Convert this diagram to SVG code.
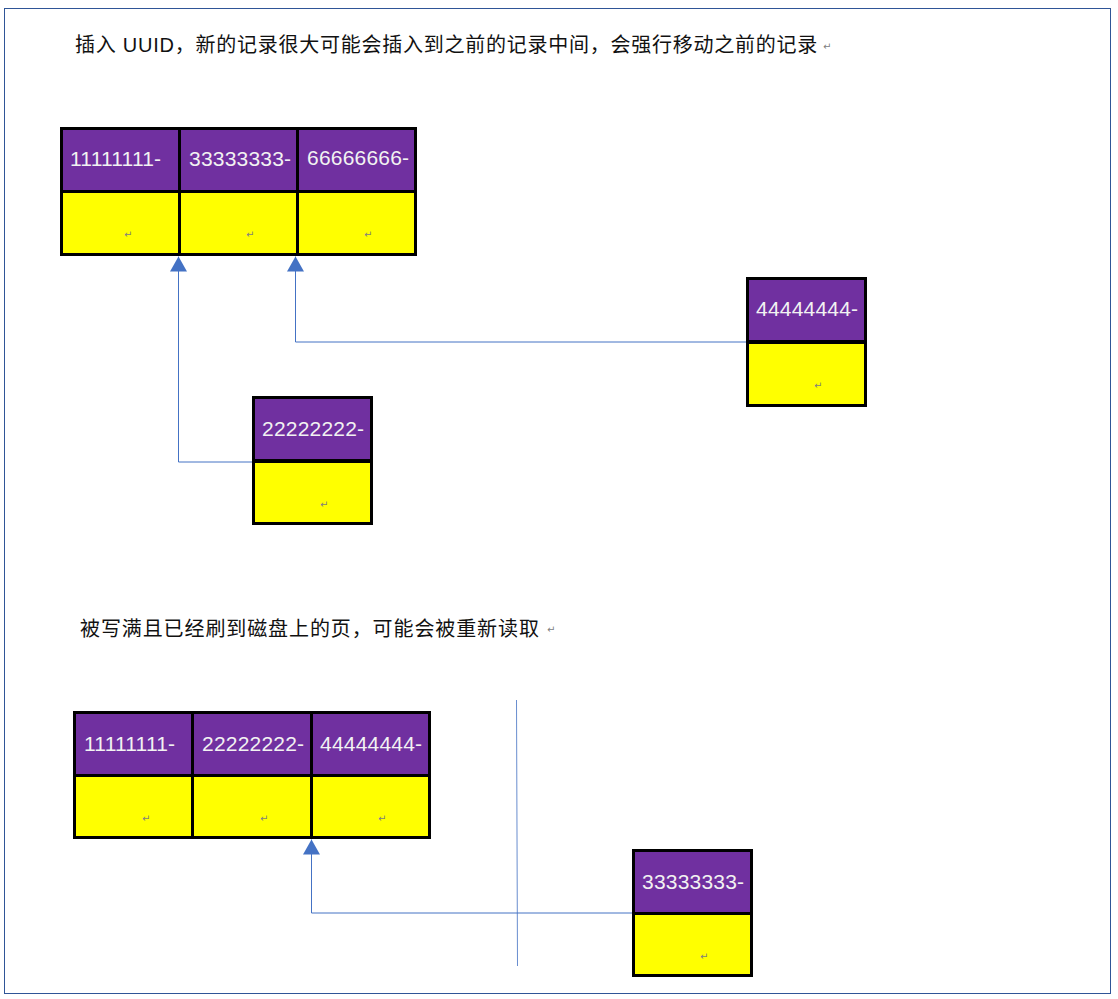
<svg xmlns="http://www.w3.org/2000/svg" width="1118" height="999" viewBox="0 0 1118 999">
<defs>
<style>
.frame{fill:#fff;stroke:#2F5597;stroke-width:1}
.hd{fill:#7030A0;stroke:#000;stroke-width:3}
.bd{fill:#FFFF00;stroke:#000;stroke-width:3}
.lbl{font-family:"Liberation Sans",Arial,sans-serif;font-size:21px;fill:#F2F2F2;letter-spacing:0.2px}
.cap{font-family:"Liberation Sans","Noto Sans CJK SC",sans-serif;font-size:20px;fill:#111}
.rm{font-family:"DejaVu Sans",sans-serif;font-size:10px;fill:#808080}
.conn{fill:none;stroke:#4472C4;stroke-width:1}
</style>
<marker id="ah" viewBox="0 0 15 17" refX="15" refY="8.5" markerWidth="15" markerHeight="17" markerUnits="userSpaceOnUse" orient="auto">
<path d="M0,0 L15,8.5 L0,17 Z" fill="#4472C4"/>
</marker>
</defs>
<rect class="frame" x="4.5" y="8.5" width="1106" height="985"/>
<g id="caption1">
<text class="cap" x="75" y="52" letter-spacing="0.75">插入 UUID，新的记录很大可能会插入到之前的记录中间，会强行移动之前的记录</text>
<text class="rm" x="823" y="50">↵</text>
</g>
<g id="caption2">
<text class="cap" x="80" y="636" letter-spacing="0.9">被写满且已经刷到磁盘上的页，可能会被重新读取</text>
<text class="rm" x="547" y="633">↵</text>
</g>
<g id="connectors">
<path class="conn" d="M253,462 H178.5 V256.5" marker-end="url(#ah)"/>
<path class="conn" d="M747,342 H295.5 V256.5" marker-end="url(#ah)"/>
<path class="conn" d="M633,913 H311.5 V839.5" marker-end="url(#ah)"/>
<line x1="516.5" y1="700" x2="517.5" y2="966" stroke="#4472C4" stroke-width="1" opacity="0.8"/>
</g>
<g id="page1">
<rect class="hd" x="61.5" y="128.5" width="118" height="63"/>
<rect class="bd" x="61.5" y="191.5" width="118" height="63"/>
<rect class="hd" x="179.5" y="128.5" width="118" height="63"/>
<rect class="bd" x="179.5" y="191.5" width="118" height="63"/>
<rect class="hd" x="297.5" y="128.5" width="118" height="63"/>
<rect class="bd" x="297.5" y="191.5" width="118" height="63"/>
<text class="lbl" x="70" y="166">11111111-</text>
<text class="lbl" x="189" y="166">33333333-</text>
<text class="lbl" x="307" y="165">66666666-</text>
<text class="rm" x="124" y="238">↵</text>
<text class="rm" x="246" y="238">↵</text>
<text class="rm" x="364" y="238">↵</text>
</g>
<g id="rec22222222">
<rect class="hd" x="253.5" y="397.5" width="118" height="63"/>
<rect class="bd" x="253.5" y="461.5" width="118" height="62"/>
<text class="lbl" x="262" y="436">22222222-</text>
<text class="rm" x="320" y="508">↵</text>
</g>
<g id="rec44444444">
<rect class="hd" x="747.5" y="278.5" width="118" height="63"/>
<rect class="bd" x="747.5" y="342.5" width="118" height="63"/>
<text class="lbl" x="756" y="316">44444444-</text>
<text class="rm" x="814" y="389">↵</text>
</g>
<g id="page2">
<rect class="hd" x="74.5" y="712.5" width="118" height="63"/>
<rect class="bd" x="74.5" y="775.5" width="118" height="62"/>
<rect class="hd" x="192.5" y="712.5" width="119" height="63"/>
<rect class="bd" x="192.5" y="775.5" width="119" height="62"/>
<rect class="hd" x="311.5" y="712.5" width="118" height="63"/>
<rect class="bd" x="311.5" y="775.5" width="118" height="62"/>
<text class="lbl" x="84" y="751">11111111-</text>
<text class="lbl" x="202" y="751">22222222-</text>
<text class="lbl" x="320" y="751">44444444-</text>
<text class="rm" x="142" y="822">↵</text>
<text class="rm" x="260" y="822">↵</text>
<text class="rm" x="378" y="822">↵</text>
</g>
<g id="rec33333333">
<rect class="hd" x="633.5" y="850.5" width="118" height="63"/>
<rect class="bd" x="633.5" y="913.5" width="118" height="62"/>
<text class="lbl" x="642" y="889">33333333-</text>
<text class="rm" x="700" y="960">↵</text>
</g>
</svg>
